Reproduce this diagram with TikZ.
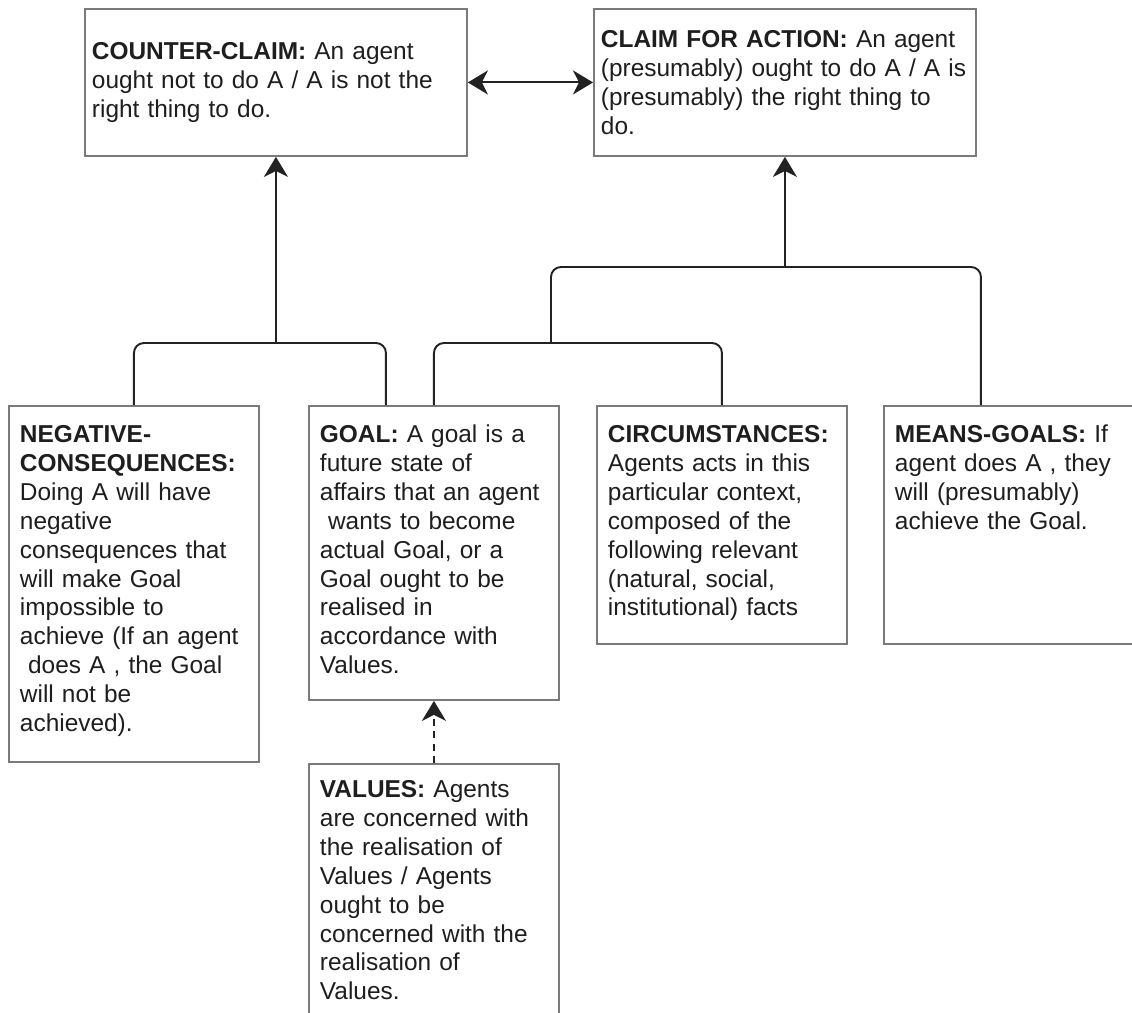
\documentclass[tikz,border=0pt]{standalone}
\usepackage{fontspec}
\setmainfont{Liberation Sans}
\usepackage{xcolor}
\usepackage{tikz}
\usetikzlibrary{arrows.meta,calc}
\definecolor{ink}{HTML}{1E1E1E}
\definecolor{frame}{HTML}{7A7A7A}
\definecolor{linkc}{HTML}{222222}
\tikzset{
  card/.style={draw=frame, line width=1.1pt, rectangle, anchor=north west, text=ink, align=left,
    font=\fontsize{13.9pt}{16.4pt}\selectfont},
  topcard/.style={card, inner xsep=0.14cm, inner ysep=0pt, text width=7.36cm,
    minimum width=7.64cm, minimum height=2.94cm},
  lowcard/.style={card, inner xsep=0.22cm, inner ysep=0.2cm, text width=4.56cm, text height=0.54cm},
  wire/.style={draw=linkc, line width=1.1pt, rounded corners=0.2cm},
  arr/.style={wire, -{Stealth[length=0.4cm, width=0.48cm, inset=0.12cm]}},
  twoarr/.style={wire, {Stealth[length=0.4cm, width=0.48cm, inset=0.12cm]}-{Stealth[length=0.4cm, width=0.48cm, inset=0.12cm]}},
}

\begin{document}
\begin{tikzpicture}[x=0.02cm, y=-0.02cm]
\useasboundingbox (0,0) rectangle (1132,1013);
\fill[white] (0,0) rectangle (1132,1013);
\clip (0,0) rectangle (1132,1013);

% claims
\node[topcard] (counter) at (84,8) {\textbf{COUNTER-CLAIM:} An agent\\ought not to do A / A is not the\\right thing to do.};
\node[topcard] (claim) at (593,8) {\textbf{CLAIM FOR ACTION:} An agent\\\mbox{(presumably) ought to do A / A is}\\(presumably) the right thing to\\do.};

% premises
\node[lowcard, text depth=6.18cm] (neg) at (8,405) {\textbf{NEGATIVE-}\\\textbf{CONSEQUENCES:}\\Doing A will have\\negative\\consequences that\\will make Goal\\impossible to\\achieve (If an agent\\~does A , the Goal\\will not be\\achieved).};
\node[lowcard, text depth=4.94cm] (goal) at (308,405) {\textbf{GOAL:} A goal is a\\future state of\\affairs that an agent\\~wants to become\\actual Goal, or a\\Goal ought to be\\realised in\\accordance with\\Values.};
\node[lowcard, text depth=3.82cm] (circ) at (596,405) {\textbf{CIRCUMSTANCES:}\\Agents acts in this\\particular context,\\composed of the\\following relevant\\(natural, social,\\institutional) facts};
\node[lowcard, text depth=3.82cm] (means) at (883,405) {\textbf{MEANS-GOALS:} If\\agent does A , they\\will (presumably)\\achieve the Goal.};
\node[lowcard, text height=0.48cm, text depth=4.52cm] (values) at (308,763) {\textbf{VALUES:} Agents\\are concerned with\\the realisation of\\Values / Agents\\ought to be\\concerned with the\\realisation of\\Values.};

% brackets and arrows
\coordinate (cj) at (counter.south |- 0,343);
\coordinate (gj) at (551,343);
\coordinate (aj) at (claim.south |- 0,267);
\draw[wire] (neg.north) |- (cj) -| ([xshift=-0.96cm]goal.north);
\draw[wire] (goal.north) |- (gj) -| (circ.north);
\draw[wire] (gj) |- (aj) -| ([xshift=-0.56cm]means.north);
\draw[arr] (cj) -- (counter);
\draw[arr] (aj) -- (claim);
\draw[twoarr] (counter) -- (claim);
\draw[arr, dash pattern=on 4pt off 3pt] (values) -- (goal);
\end{tikzpicture}
\end{document}
